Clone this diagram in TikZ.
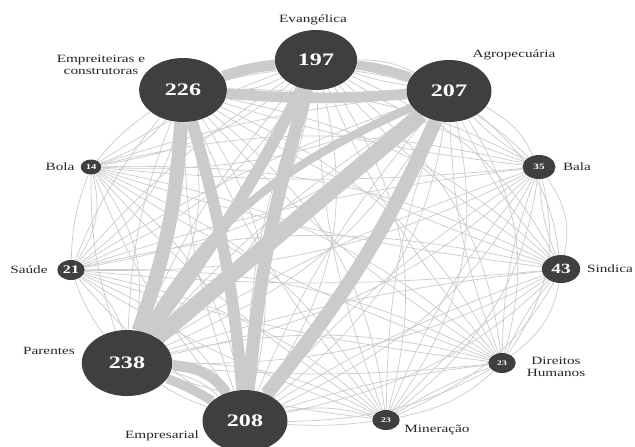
\documentclass[tikz,border=0pt]{standalone}
\usepackage{fontspec}
\setmainfont{Liberation Serif}
\usetikzlibrary{backgrounds}

\definecolor{nodegray}{HTML}{3F3F3F}
\definecolor{linkgray}{HTML}{CBCBCB}
\tikzset{
  party/.style={circle, fill=nodegray, text=white, font=\bfseries, inner sep=0pt},
  lbl/.style={font=\fontsize{9.5}{10.5}\selectfont, text=black!85, align=center, inner sep=0pt},
  weak/.style={draw=linkgray, line width=0.6pt},
  strong/.style={draw=linkgray, line width=#1},
}

\begin{document}
\begin{tikzpicture}[xscale=1.37, transform shape, x=0.0219cm, y=-0.03cm]
\useasboundingbox (0,0) rectangle (635,446);

\node[party, minimum size=1.80cm, font=\fontsize{15}{15}\bfseries] (evg) at (316,60) {197};
\node[party, minimum size=1.92cm, font=\fontsize{15}{15}\bfseries] (emp) at (183,90) {226};
\node[party, minimum size=1.86cm, font=\fontsize{15}{15}\bfseries] (agr) at (449,91) {207};
\node[party, minimum size=0.45cm, font=\fontsize{6.5}{6.5}\bfseries] (bol) at (91,167) {14};
\node[party, minimum size=0.72cm, font=\fontsize{7}{7}\bfseries] (bal) at (539,167) {35};
\node[party, minimum size=0.60cm, font=\fontsize{10}{10}\bfseries] (sau) at (71,270) {21};
\node[party, minimum size=0.84cm, font=\fontsize{12}{12}\bfseries] (sin) at (561,269) {43};
\node[party, minimum size=1.98cm, font=\fontsize{15}{15}\bfseries] (par) at (127,363) {238};
\node[party, minimum size=0.60cm, font=\fontsize{6}{6}\bfseries] (dhu) at (502,363) {23};
\node[party, minimum size=1.86cm, font=\fontsize{15}{15}\bfseries] (ems) at (245,421) {208};
\node[party, minimum size=0.60cm, font=\fontsize{6}{6}\bfseries] (min) at (386,420) {23};

\node[lbl] (evg-l) at (313,20) {Evangélica};
\node[lbl] (emp-l) at (101,65) {Empreiteiras e\\construtoras};
\node[lbl] (agr-l) at (514,55) {Agropecuária};
\node[lbl] (bol-l) at (60,167) {Bola};
\node[lbl] (bal-l) at (577,167) {Bala};
\node[lbl] (sau-l) at (29,270) {Saúde};
\node[lbl] (sin-l) at (610,269) {Sindica};
\node[lbl] (par-l) at (49,351) {Parentes};
\node[lbl] (dhu-l) at (556,367) {Direitos\\Humanos};
\node[lbl] (ems-l) at (162,436) {Empresarial};
\node[lbl] (min-l) at (437,430) {Mineração};

\begin{scope}[on background layer]
\fill[white] (0,0) rectangle (635,446);
% thin links between every pair
\foreach \a [count=\i] in {evg,emp,agr,bol,bal,sau,sin,par,dhu,ems,min}{
  \foreach \b [count=\j] in {evg,emp,agr,bol,bal,sau,sin,par,dhu,ems,min}{
    \ifnum\j>\i
      \draw[weak] (\a) to[bend left=18] (\b);
      \draw[weak] (\a) to[bend right=7] (\b);
    \fi
  }
}

% strong links
\draw[strong=9pt] (emp) to[bend left=8] (evg);
\draw[strong=8pt] (evg) to[bend left=8] (agr);
\draw[strong=9pt] (emp) to[bend right=6] (agr);
\draw[strong=7pt] (agr) to[bend right=18] (par);
\draw[strong=12pt] (emp) to[bend left=6] (par);
\draw[strong=10pt] (emp) to[bend left=4] (ems);
\draw[strong=10pt] (evg) to[bend left=4] (par);
\draw[strong=11pt] (evg) to[bend right=4] (ems);
\draw[strong=14pt] (agr) to (par);
\draw[strong=12pt] (agr) to[bend left=6] (ems);
\draw[strong=9pt] (par) to[bend left=30] (ems);
\draw[strong=8pt] (par) to[bend left=6] (ems);
\end{scope}
\end{tikzpicture}
\end{document}
